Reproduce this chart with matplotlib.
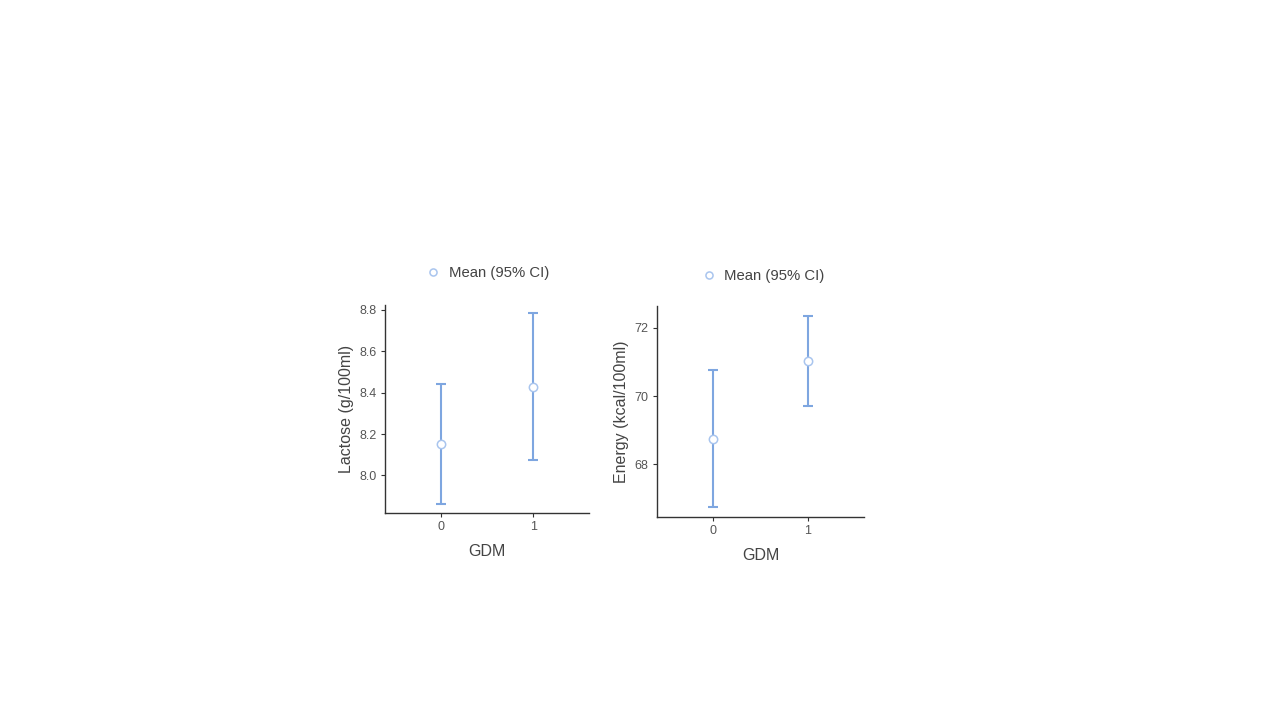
import matplotlib
matplotlib.use("Agg")
import matplotlib.pyplot as plt

plt.rcParams['font.family'] = ['Liberation Sans', 'DejaVu Sans']

groups = [0, 1]
lactose_mean = [8.151, 8.428]
lactose_lo = [7.860, 8.074]
lactose_hi = [8.443, 8.784]
energy_mean = [68.76, 71.02]
energy_lo = [66.75, 69.70]
energy_hi = [70.76, 72.36]

bar_col = '#7ea6e0'
mk_edge = '#a9c5ee'
txt_col = '#444444'
tick_col = '#555555'

fig = plt.figure(figsize=(12.8, 7.2), dpi=100)
ax1 = fig.add_axes([0.3008, 0.2875, 0.1594, 0.2889])
ax2 = fig.add_axes([0.5133, 0.2819, 0.1617, 0.2930])


def panel(ax, mean, lo, hi, ylabel, ylim, yticks, leg_x, leg_y):
    err = [[m - l for m, l in zip(mean, lo)], [h - m for m, h in zip(mean, hi)]]
    ax.errorbar(groups, mean, yerr=err, fmt='none', ecolor=bar_col,
                elinewidth=1.5, capsize=3.6, capthick=1.5, zorder=2)
    ax.plot(groups, mean, 'o', ms=6, mfc='white', mec=mk_edge, mew=1.1,
            zorder=3, label='Mean (95% CI)', linestyle='none')
    ax.set_xlim(-0.6, 1.6)
    ax.set_ylim(*ylim)
    ax.set_xticks(groups)
    ax.set_yticks(yticks)
    for s in ['top', 'right']:
        ax.spines[s].set_visible(False)
    for s in ['left', 'bottom']:
        ax.spines[s].set_color('#333333')
        ax.spines[s].set_linewidth(1.0)
    ax.tick_params(length=3, width=0.8, color='#333333', labelsize=9,
                   labelcolor=tick_col, pad=3)
    ax.set_xlabel('GDM', fontsize=11.5, color=txt_col, labelpad=8)
    ax.set_ylabel(ylabel, fontsize=11.5, color=txt_col, labelpad=4)
    ax.legend(loc='center', bbox_to_anchor=(leg_x, leg_y), frameon=False,
              fontsize=10.7, labelcolor=txt_col, handletextpad=0.25,
              handlelength=1.6, markerscale=0.85)


panel(ax1, lactose_mean, lactose_lo, lactose_hi, 'Lactose (g/100ml)',
      (7.818, 8.824), [8.0, 8.2, 8.4, 8.6, 8.8], 0.49, 1.155)
ax1.set_yticklabels(['8.0', '8.2', '8.4', '8.6', '8.8'])
panel(ax2, energy_mean, energy_lo, energy_hi, 'Energy (kcal/100ml)',
      (66.46, 72.64), [68, 70, 72], 0.50, 1.142)

fig.savefig('out.png', dpi=100)
